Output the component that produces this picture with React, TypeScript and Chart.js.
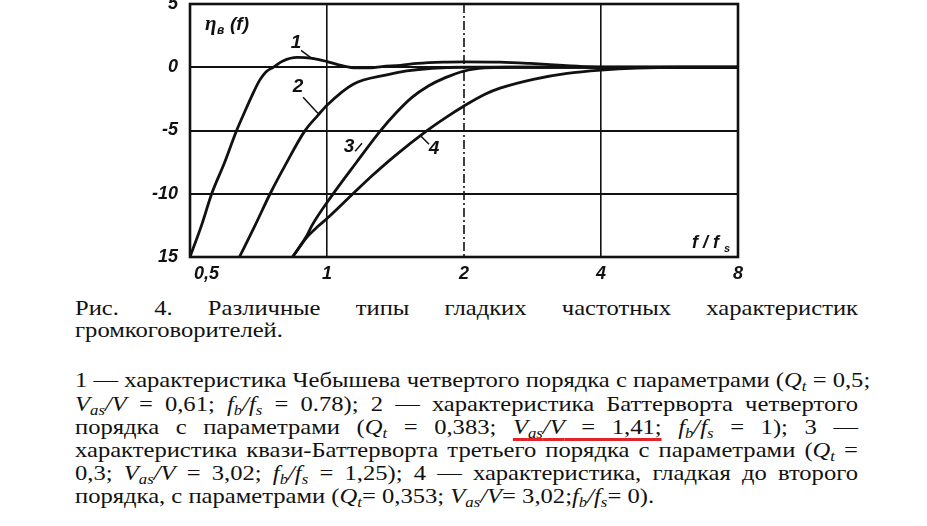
import React, { useEffect, useRef } from "react";
import { Chart, registerables } from "chart.js";

Chart.register(...registerables);

// ---- data ----
const xTickValues = [0.5, 1, 2, 4, 8];
const xTickLabels = ["0,5", "1", "2", "4", "8"];
const yTickValues = [5, 0, -5, -10, -15];
const yTickLabels = ["5", "0", "-5", "-10", "15"];

const f1 = [0.5, 0.53, 0.558, 0.595, 0.633, 0.658, 0.683, 0.712, 0.735, 0.762, 0.8, 0.86, 0.93, 1.0, 1.08, 1.16, 1.25, 1.32, 1.45, 1.58, 1.8, 2.0, 2.4, 2.8, 3.3, 3.8, 4.5, 8];
const db1 = [-15, -12.5, -10, -7.57, -5, -3.6, -2.3, -1.0, -0.35, 0, 0.5, 0.78, 0.7, 0.45, 0.12, -0.05, -0.05, 0.05, 0.15, 0.3, 0.4, 0.42, 0.4, 0.3, 0.15, 0.03, 0, 0];

const f2 = [0.642, 0.695, 0.75, 0.808, 0.894, 0.955, 1.0, 1.142, 1.353, 1.497, 1.7, 2.0, 8];
const db2 = [-15, -12.5, -10, -7.8, -5.03, -3.8, -3.0, -1.34, -0.6, -0.29, -0.08, 0, 0];

const f3 = [0.84, 0.9, 0.927, 1.024, 1.159, 1.31, 1.419, 1.535, 1.67, 1.82, 2.0, 2.22, 2.5, 8];
const db3 = [-15, -13.4, -12.5, -10.17, -7.55, -5.03, -3.6, -2.4, -1.48, -0.82, -0.3, -0.05, 0, 0];

const f4 = [0.84, 0.9, 0.957, 1.0, 1.133, 1.254, 1.41, 1.656, 1.82, 2.0, 2.224, 2.4, 2.84, 3.37, 4.0, 4.8, 6, 8];
const db4 = [-15, -13.5, -12.55, -11.96, -10.1, -8.6, -7.0, -5.03, -4.0, -3.06, -2.13, -1.65, -0.95, -0.48, -0.22, -0.06, 0, 0];

const curveLabels = ["1", "2", "3", "4"];
const labelPos = [
  [0.855, 1.9],
  [0.864, -1.58],
  [1.118, -6.32],
  [1.718, -6.48],
];
const leaderFrom = [
  [0.877, 1.34],
  [0.886, -2.37],
  [1.153, -6.64],
  [1.676, -6.09],
];
const leaderTo = [
  [0.932, 0.63],
  [0.955, -3.64],
  [1.194, -6.01],
  [1.601, -5.38],
];

const INK = "#111";
const TICK_FONT = "italic bold 18px 'Liberation Sans', sans-serif";

function pts(fs: number[], ds: number[]) {
  return fs.map((f, i) => ({ x: f, y: ds[i] }));
}

const framePlugin = {
  id: "frameAndNotes",
  afterDraw(chart: any) {
    const { ctx, chartArea, scales } = chart;
    const { left, top, right, bottom } = chartArea;
    ctx.save();

    // dash-dot grid line at f/fs = 2
    ctx.strokeStyle = INK;
    ctx.lineWidth = 1.6;
    ctx.setLineDash([9, 3, 2, 3]);
    const x2 = scales.x.getPixelForValue(2);
    ctx.beginPath();
    ctx.moveTo(x2, top);
    ctx.lineTo(x2, bottom);
    ctx.stroke();
    ctx.setLineDash([]);

    ctx.lineWidth = 2.6;
    ctx.strokeRect(left, top, right - left, bottom - top);

    // x tick labels
    ctx.fillStyle = INK;
    ctx.font = TICK_FONT;
    ctx.textBaseline = "middle";
    xTickValues.forEach((v, i) => {
      const px = scales.x.getPixelForValue(v);
      if (i === 0) {
        ctx.textAlign = "left";
        ctx.fillText(xTickLabels[i], px + 4, bottom + 17);
      } else {
        ctx.textAlign = "center";
        ctx.fillText(xTickLabels[i], px, bottom + 17);
      }
    });

    // curve labels with leader lines
    ctx.font = "italic bold 19px 'Liberation Sans', sans-serif";
    ctx.textAlign = "center";
    ctx.textBaseline = "middle";
    ctx.lineWidth = 1.5;
    curveLabels.forEach((t, i) => {
      const x = scales.x.getPixelForValue(labelPos[i][0]);
      const y = scales.y.getPixelForValue(labelPos[i][1]);
      ctx.fillText(t, x, y);
      ctx.beginPath();
      ctx.moveTo(scales.x.getPixelForValue(leaderFrom[i][0]), scales.y.getPixelForValue(leaderFrom[i][1]));
      ctx.lineTo(scales.x.getPixelForValue(leaderTo[i][0]), scales.y.getPixelForValue(leaderTo[i][1]));
      ctx.stroke();
    });

    // y title: η_в (f)
    ctx.textAlign = "left";
    ctx.textBaseline = "alphabetic";
    ctx.font = "italic bold 21px 'Liberation Serif', serif";
    ctx.fillText("η", left + 15, top + 26);
    ctx.font = "italic bold 12px 'Liberation Sans', sans-serif";
    ctx.fillText("в", left + 27, top + 30);
    ctx.font = "italic bold 19px 'Liberation Sans', sans-serif";
    ctx.fillText("(f)", left + 40, top + 26);

    // x title: f / f_s
    ctx.font = "italic bold 18px 'Liberation Sans', sans-serif";
    ctx.fillText("f / f", right - 46, bottom - 9);
    ctx.font = "italic bold 11px 'Liberation Sans', sans-serif";
    ctx.fillText("s", right - 14, bottom - 5);
    ctx.restore();
  },
};

function ChartView() {
  const ref = useRef<HTMLCanvasElement | null>(null);
  useEffect(() => {
    if (!ref.current) return;
    const ds = (d: any[]) => ({
      data: d,
      borderColor: INK,
      borderWidth: 2.8,
      pointRadius: 0,
      fill: false,
      cubicInterpolationMode: "monotone" as const,
    });
    const chart = new Chart(ref.current, {
      type: "line",
      data: {
        datasets: [ds(pts(f1, db1)), ds(pts(f2, db2)), ds(pts(f3, db3)), ds(pts(f4, db4))],
      },
      options: {
        animation: false,
        responsive: false,
        parsing: false as any,
        layout: { padding: { left: 0, right: 189, top: 4, bottom: 0 } },
        plugins: { legend: { display: false }, tooltip: { enabled: false } },
        scales: {
          x: {
            type: "logarithmic",
            min: 0.5,
            max: 8,
            afterBuildTicks: (scale: any) => {
              scale.ticks = xTickValues.map((v) => ({ value: v }));
            },
            afterFit: (scale: any) => {
              scale.height = 33;
              scale.paddingLeft = 0;
              scale.paddingRight = 0;
            },
            border: { display: false },
            grid: {
              drawTicks: false,
              lineWidth: 1.6,
              color: (c: any) => ([1, 4].includes(c.tick?.value) ? INK : "rgba(0,0,0,0)"),
            },
            ticks: { display: false },
          },
          y: {
            type: "linear",
            min: -15,
            max: 5,
            afterBuildTicks: (scale: any) => {
              scale.ticks = yTickValues.map((v) => ({ value: v }));
            },
            afterFit: (scale: any) => {
              scale.width = 190;
              scale.paddingTop = 0;
              scale.paddingBottom = 0;
            },
            border: { display: false },
            grid: {
              drawTicks: false,
              lineWidth: 2,
              color: (c: any) => ([0, -5, -10].includes(c.tick?.value) ? INK : "rgba(0,0,0,0)"),
            },
            ticks: {
              padding: 12,
              color: INK,
              font: { family: "'Liberation Sans', sans-serif", size: 18, style: "italic", weight: "bold" },
              callback: (v: any) => {
                const i = yTickValues.indexOf(Number(v));
                return i >= 0 ? yTickLabels[i] : "";
              },
            },
          },
        },
      },
      plugins: [framePlugin],
    });
    return () => chart.destroy();
  }, []);
  return <canvas ref={ref} width={927} height={290} style={{ position: "absolute", left: 0, top: 0 }} />;
}

const it: React.CSSProperties = { fontStyle: "italic" };
const sb: React.CSSProperties = { fontStyle: "italic", fontSize: "0.68em", verticalAlign: "-0.3em", lineHeight: 0 };

const Qt = () => (
  <span style={it}>
    Q<span style={sb}>t</span>
  </span>
);
const Vas = () => (
  <span style={it}>
    V<span style={sb}>as</span>/V
  </span>
);
const Fb = () => (
  <span style={it}>
    f<span style={sb}>b</span>/f<span style={sb}>s</span>
  </span>
);

const SX = 1.134; // horizontal stretch of the scanned page text
const TEXT_W = 783;

function Line({ top, last, children }: { top: number; last?: boolean; children: React.ReactNode }) {
  return (
    <div
      style={{
        position: "absolute",
        left: 75,
        top,
        width: TEXT_W / SX,
        height: 23.2,
        lineHeight: "23.2px",
        whiteSpace: "nowrap",
        textAlign: last ? "left" : "justify",
        textAlignLast: last ? "left" : "justify",
        transform: `scaleX(${SX})`,
        transformOrigin: "0 0",
        overflow: "visible",
      }}
    >
      {children}
    </div>
  );
}

export default function App() {
  const L = 23.2;
  const p2 = 369.4;
  return (
    <div
      style={{
        position: "absolute",
        left: 0,
        top: 0,
        width: 927,
        height: 526,
        background: "#fff",
        color: "#111",
        fontFamily: "'Liberation Serif', 'Times New Roman', serif",
        fontSize: 21.7,
        overflow: "hidden",
      }}
    >
      <ChartView />
      <Line top={297.4}>Рис. 4. Различные типы гладких частотных характеристик</Line>
      <Line top={319.1} last>
        громкоговорителей.
      </Line>
      <Line top={p2}>
        1 — характеристика Чебышева четвертого порядка с параметрами (<Qt /> = 0,5;
      </Line>
      <Line top={p2 + L}>
        <Vas /> = 0,61; <Fb /> = 0.78); 2 — характеристика Баттерворта четвертого
      </Line>
      <Line top={p2 + 2 * L}>
        порядка с параметрами (<Qt /> = 0,383;{" "}
        <span
          style={{
            textDecorationLine: "underline",
            textDecorationColor: "#e0242a",
            textDecorationThickness: "3px",
            textUnderlineOffset: "4px",
            textDecorationSkipInk: "none",
          }}
        >
          <Vas /> = 1,41;
        </span>{" "}
        <Fb /> = 1); 3 —
      </Line>
      <Line top={p2 + 3 * L}>
        характеристика квази-Баттерворта третьего порядка с параметрами (<Qt /> =
      </Line>
      <Line top={p2 + 4 * L}>
        0,3; <Vas /> = 3,02; <Fb /> = 1,25); 4 — характеристика, гладкая до второго
      </Line>
      <Line top={p2 + 5 * L} last>
        порядка, с параметрами (<Qt />= 0,353; <Vas />= 3,02;<Fb />= 0).
      </Line>
    </div>
  );
}
